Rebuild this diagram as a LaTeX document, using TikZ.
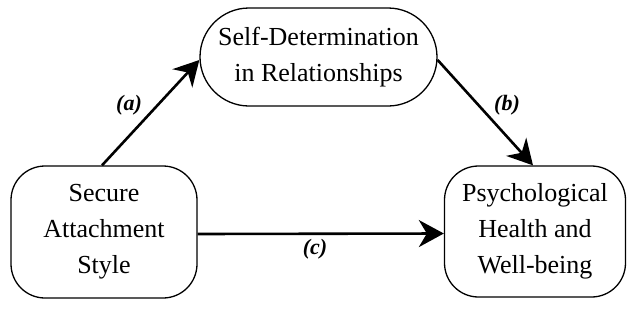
\documentclass[tikz,border=0pt]{standalone}
\usepackage{fontspec}
\setmainfont{Liberation Serif}
\usetikzlibrary{arrows.meta}
\begin{document}
\begin{tikzpicture}[x=1pt,y=-1pt,
  box/.style={draw=black, line width=1.3pt, align=center, inner sep=0pt,
    font=\fontsize{26}{36}\selectfont},
  link/.style={line width=2.6pt, -{Stealth[length=25pt,width=27pt,inset=8pt]}},
  lbl/.style={font=\fontsize{22}{26}\selectfont\itshape\bfseries}]
\useasboundingbox (0,0) rectangle (627,322);
\node[box, minimum width=237pt, minimum height=98pt, rounded corners=49pt] (sd) at (318.5,57)
  {Self-Determination\\in Relationships};
\node[box, minimum width=186pt, minimum height=132pt, rounded corners=34pt] (sa) at (104,232)
  {Secure\\Attachment\\Style};
\node[box, minimum width=181pt, minimum height=131pt, rounded corners=34pt] (ph) at (535,231.5)
  {Psychological\\Health and\\Well-being};
\draw[link] ([xshift=-2pt]sa.north) -- ([yshift=-3pt]sd.west);
\draw[link] ([yshift=-3pt]sd.east) -- ([xshift=-2pt]ph.north);
\draw[link] ([yshift=-2pt]sa.east) -- ([yshift=-2pt]ph.west);
\node[lbl] (la) at (129,105) {(a)};
\node[lbl] (lb) at (507,105) {(b)};
\node[lbl] (lc) at (315,249) {(c)};
\end{tikzpicture}
\end{document}
